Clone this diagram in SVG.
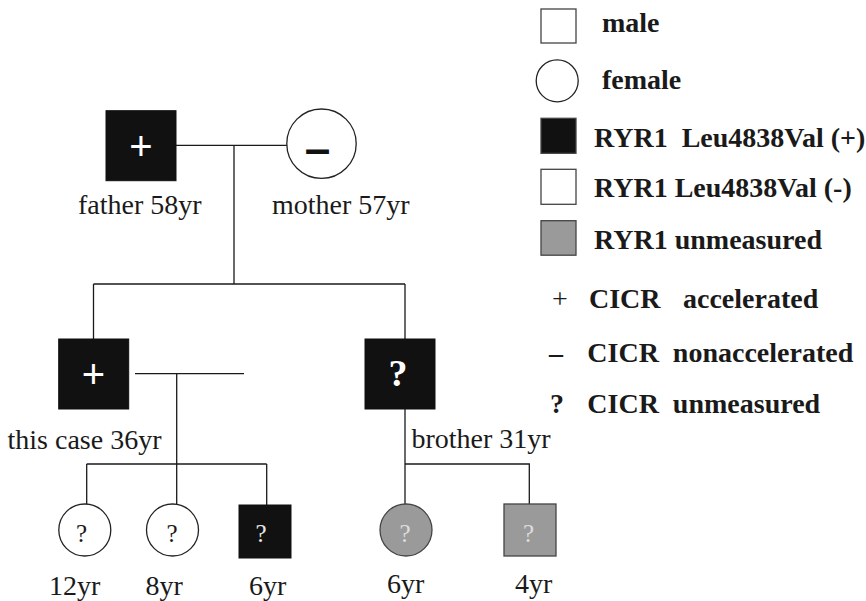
<svg xmlns="http://www.w3.org/2000/svg" width="866" height="601" viewBox="0 0 866 601">
<style>
.bg{fill:#ffffff}
.ln{stroke:#1a1a1a;stroke-width:1.3;fill:none}
.blk{fill:#111111;stroke:#111111;stroke-width:1}
.wht{fill:#ffffff;stroke:#222222;stroke-width:1.3}
.gry{fill:#9a9a9a;stroke:#444444;stroke-width:1.3}
.lab{font-family:"Liberation Serif","Times New Roman",serif;font-size:28px;fill:#1a1a1a}
.leg{font-family:"Liberation Serif","Times New Roman",serif;font-size:28px;font-weight:bold;fill:#1a1a1a}
.plus{font-family:"Liberation Sans",Arial,sans-serif;font-size:40px;fill:#ffffff;text-anchor:middle}
.q{font-family:"Liberation Serif","Times New Roman",serif;font-size:25px;text-anchor:middle}
</style>
<rect class="bg" x="0" y="0" width="866" height="601"/>
<g id="connectors">
<path class="ln" d="M176,145.3 H287"/>
<path class="ln" d="M234,145.3 V284"/>
<path class="ln" d="M93.5,284 H405"/>
<path class="ln" d="M93.5,284 V339"/>
<path class="ln" d="M405,284 V339"/>
<path class="ln" d="M135,373.7 H244"/>
<path class="ln" d="M176.7,373.7 V504"/>
<path class="ln" d="M86.7,464 H266.7"/>
<path class="ln" d="M86.7,464 V504"/>
<path class="ln" d="M266.7,464 V505"/>
<path class="ln" d="M405,409 V504"/>
<path class="ln" d="M405,464 H529.3 V504"/>
</g>
<g id="father">
<rect class="blk" x="106" y="110.7" width="70" height="70"/>
<text class="plus" x="141" y="160">+</text>
<text class="lab" x="78" y="214">father 58yr</text>
</g>
<g id="mother">
<circle class="wht" cx="321.5" cy="143.7" r="34.7"/>
<text x="317.5" y="164" font-family="Liberation Sans,Arial,sans-serif" font-size="46" font-weight="bold" fill="#111" text-anchor="middle">–</text>
<text class="lab" x="272" y="214">mother 57yr</text>
</g>
<g id="thiscase">
<rect class="blk" x="58.7" y="339" width="70" height="70"/>
<text class="plus" x="93.5" y="388">+</text>
<text class="lab" x="7.5" y="449">this case 36yr</text>
</g>
<g id="brother">
<rect class="blk" x="365" y="339" width="70" height="70"/>
<text x="398" y="386" font-family="Liberation Serif,Times New Roman,serif" font-size="38" font-weight="bold" fill="#ffffff" text-anchor="middle">?</text>
<text class="lab" x="411.5" y="448.3">brother 31yr</text>
</g>
<g id="child12">
<circle class="wht" cx="84.8" cy="530" r="26"/>
<text class="q" x="81.5" y="542" fill="#1a1a1a">?</text>
<text class="lab" x="49" y="595">12yr</text>
</g>
<g id="child8">
<circle class="wht" cx="172.5" cy="530" r="26"/>
<text class="q" x="172" y="542" fill="#1a1a1a">?</text>
<text class="lab" x="145.5" y="595">8yr</text>
</g>
<g id="child6a">
<rect class="blk" x="239" y="505" width="52" height="53"/>
<text class="q" x="261" y="542" fill="#e6e6e6">?</text>
<text class="lab" x="249" y="595">6yr</text>
</g>
<g id="child6b">
<circle class="gry" cx="406" cy="530" r="26"/>
<text class="q" x="405" y="542" fill="#dddddd">?</text>
<text class="lab" x="387" y="593">6yr</text>
</g>
<g id="child4">
<rect class="gry" x="504" y="504" width="52" height="52"/>
<text class="q" x="528.5" y="542" fill="#dddddd">?</text>
<text class="lab" x="515" y="593">4yr</text>
</g>
<g id="legend">
<rect x="541" y="9" width="35" height="34" fill="#fff" stroke="#444" stroke-width="1.3"/>
<text class="leg" x="602" y="32">male</text>
<circle cx="557.2" cy="80.8" r="21" fill="#fff" stroke="#222" stroke-width="1.3"/>
<text class="leg" x="602" y="89">female</text>
<rect x="541" y="118.3" width="35" height="35" fill="#111" stroke="#444" stroke-width="1.3"/>
<text class="leg" x="594" y="146.7" font-size="26.5" xml:space="preserve">RYR1  Leu4838Val (+)</text>
<rect x="541" y="169.3" width="35" height="35" fill="#fff" stroke="#444" stroke-width="1.3"/>
<text class="leg" x="594" y="197.3">RYR1 Leu4838Val (-)</text>
<rect x="541" y="220.7" width="35" height="34.5" fill="#9a9a9a" stroke="#444" stroke-width="1.3"/>
<text class="leg" x="594" y="249.3">RYR1 unmeasured</text>
<text x="552" y="308.3" font-family="Liberation Serif,Times New Roman,serif" font-size="28" fill="#1a1a1a">+</text>
<text class="leg" x="589" y="308.3">CICR</text>
<text class="leg" x="683" y="308.3">accelerated</text>
<text x="549" y="361.7" font-family="Liberation Serif,Times New Roman,serif" font-size="28" font-weight="bold" fill="#1a1a1a">–</text>
<text class="leg" x="587.3" y="361.7" xml:space="preserve">CICR  nonaccelerated</text>
<text x="550" y="413.3" font-family="Liberation Serif,Times New Roman,serif" font-size="28" font-weight="bold" fill="#1a1a1a">?</text>
<text class="leg" x="587.3" y="413.3" xml:space="preserve">CICR  unmeasured</text>
</g>
</svg>
